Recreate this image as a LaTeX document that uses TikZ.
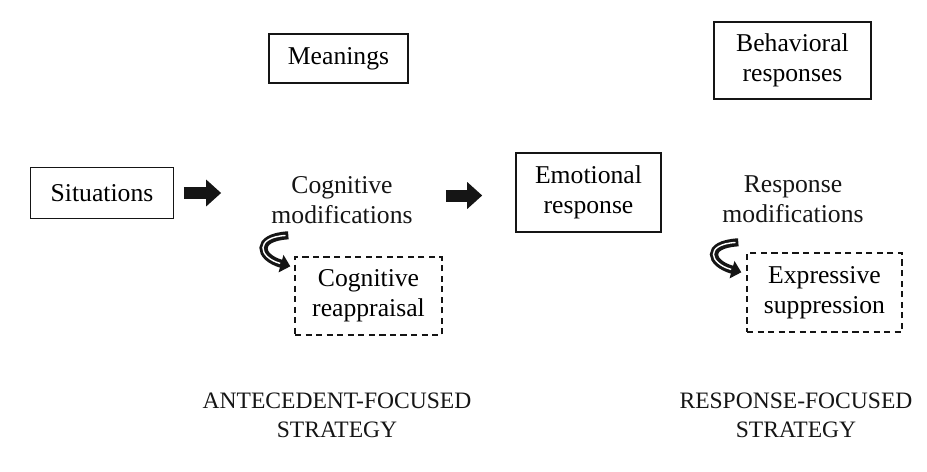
\documentclass[tikz,border=0pt]{standalone}
\usepackage{fontspec}
\setmainfont{Liberation Serif}
\usepackage{xcolor}
\usepackage{tikz}
\usetikzlibrary{calc,arrows.meta}
\definecolor{ink}{HTML}{151515}

\begin{document}
\begin{tikzpicture}[x=0.02cm,y=-0.02cm,
  font=\fontsize{14.6}{17}\selectfont,
  box/.style={draw=ink, line width=0.9pt, align=center, inner sep=0pt},
  dashbox/.style={box, dash pattern=on 3.5pt off 2.5pt, line width=0.8pt},
  label/.style={align=center, inner sep=0pt, text=ink},
  fat/.style={ink, line width=0.24cm, -{Triangle[length=0.3cm,width=0.52cm]}},
  hook/.style={ink, line width=4.6pt, -{Triangle[length=5.5pt,width=10pt]},
    postaction={draw=white, line width=0.8pt, -, shorten >=6pt, shorten <=1.6pt}}]
\useasboundingbox (0,0) rectangle (927,471);

% boxes
\node[box, minimum width=2.86cm, minimum height=1.02cm] (situations) at (102,193) {Situations};
\node[box, minimum width=2.78cm, minimum height=0.98cm] (meanings) at (338.5,58.5) {Meanings};
\node[box, minimum width=2.9cm, minimum height=1.58cm] (emotional) at (588.5,192.5) {Emotional\\response};
\node[box, minimum width=3.14cm, minimum height=1.54cm] (behavioral) at (792.5,60.5) {Behavioral\\responses};
\node[dashbox, minimum width=2.94cm, minimum height=1.56cm] (reappraisal) at (368.5,296) {Cognitive\\reappraisal};
\node[dashbox, minimum width=3.1cm, minimum height=1.58cm] (suppression) at (824.5,292.5) {Expressive\\suppression};

% plain labels
\node[label] (cogmod) at (342,200) {Cognitive\\modifications};
\node[label] (respmod) at (793,199) {Response\\modifications};
\node[label, font=\fontsize{13.4}{16.5}\selectfont] (antecedent) at (337,415) {ANTECEDENT-FOCUSED\\STRATEGY};
\node[label, font=\fontsize{13.4}{16.5}\selectfont] (responsefoc) at (796,415) {RESPONSE-FOCUSED\\STRATEGY};

% block arrows
\draw[fat, shorten <=0.19cm, shorten >=1.0cm] (situations.east) -- (situations.east -| cogmod.west);
\draw[fat, shorten <=0.66cm, shorten >=0.66cm] ([yshift=-0.06cm]cogmod.east |- emotional.west) -- ([yshift=-0.06cm]emotional.west);

% hook arrows into the strategies
\coordinate (hookA) at ([shift={(-6,-21)}]reappraisal.north west);
\coordinate (hookAend) at ([shift={(-4,10)}]reappraisal.north west);
\draw[hook] (hookA) .. controls +(-34,2) and +(-32,-9) .. (hookAend);
\coordinate (hookB) at ([shift={(-8,-10)}]suppression.north west);
\coordinate (hookBend) at ([shift={(-5,20)}]suppression.north west);
\draw[hook] (hookB) .. controls +(-34,2) and +(-32,-9) .. (hookBend);
\end{tikzpicture}
\end{document}
